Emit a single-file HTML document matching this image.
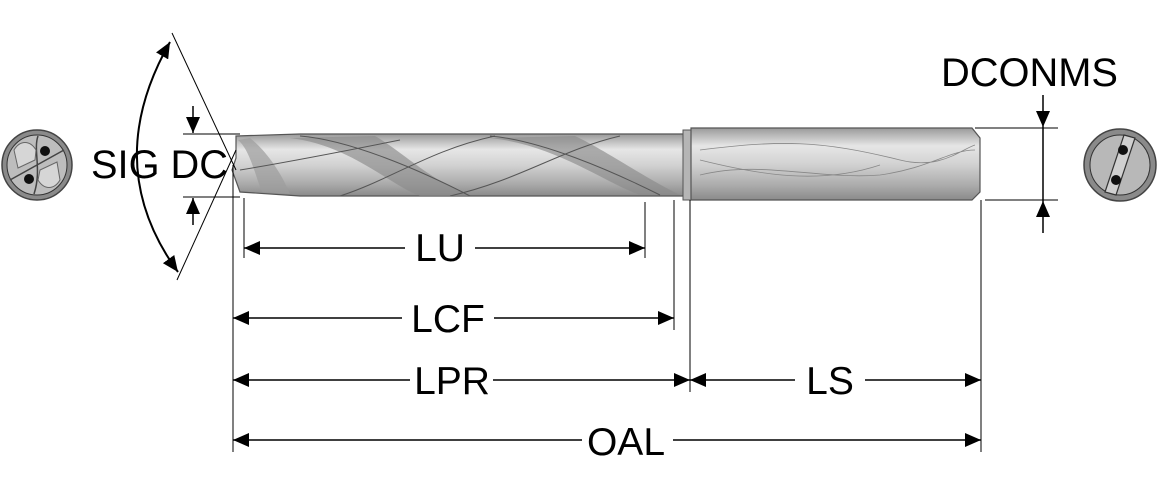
<!DOCTYPE html>
<html><head><meta charset="utf-8"><style>
html,body{margin:0;padding:0;background:#fff;}
svg{display:block;}
text{font-family:"Liberation Sans",sans-serif;fill:#000;}
</style></head><body>
<svg width="1159" height="500" viewBox="0 0 1159 500" xmlns="http://www.w3.org/2000/svg">
<defs>
<linearGradient id="g1" x1="0" y1="0" x2="0" y2="1">
<stop offset="0" stop-color="#9a9a9a"/><stop offset="0.25" stop-color="#e6e6e6"/><stop offset="0.5" stop-color="#d2d2d2"/><stop offset="0.8" stop-color="#ababab"/><stop offset="1" stop-color="#8a8a8a"/>
</linearGradient>
<marker id="a" markerWidth="16" markerHeight="14" refX="16" refY="7" orient="auto-start-reverse" markerUnits="userSpaceOnUse">
<path d="M0,0 L16,7 L0,14 Z" fill="#000"/></marker>
</defs>

<path d="M236,136 L300,134 L685,134 L685,196 L300,196 L240,192 L232,170 L236,158 Z" fill="url(#g1)" stroke="#555" stroke-width="1.2"/>
<path d="M290,138 C350,145 390,185 420,196 L470,196 C430,180 400,150 375,136 Z" fill="#8a8a8a" opacity="0.65"/>
<path d="M490,138 C555,145 600,180 640,195 L680,195 C645,178 605,150 575,136 Z" fill="#8a8a8a" opacity="0.65"/>
<path d="M238,140 C250,150 255,175 262,192 L290,194 C280,170 265,150 250,138 Z" fill="#9c9c9c" opacity="0.7"/>
<path d="M300,136 C350,140 420,170 470,196 M490,136 C540,140 610,170 660,195 M340,196 C390,180 430,150 495,136 M240,170 C300,160 350,150 400,140 M450,196 C520,180 560,150 620,136" fill="none" stroke="#555" stroke-width="1"/>
<rect x="683" y="130" width="8" height="70" fill="#b5b5b5" stroke="#555" stroke-width="1"/>
<path d="M691,128 L972,128 L980,138 L980,192 L972,200 L691,200 Z" fill="url(#g1)" stroke="#555" stroke-width="1.2"/>
<path d="M700,150 C780,140 820,140 900,160 C940,170 960,150 975,145 M700,175 C760,160 820,180 880,175 C930,168 950,150 975,150 M700,160 C760,175 820,185 880,165" fill="none" stroke="#888" stroke-width="0.8"/>

<g stroke="#000" stroke-width="1">
<line x1="183" y1="134" x2="240" y2="134"/>
<line x1="183" y1="197" x2="240" y2="197"/>
<line x1="233" y1="165" x2="233" y2="452"/>
<line x1="244" y1="198" x2="244" y2="258"/>
<line x1="645" y1="202" x2="645" y2="258"/>
<line x1="674" y1="200" x2="674" y2="330"/>
<line x1="690" y1="200" x2="690" y2="392"/>
<line x1="981" y1="200" x2="981" y2="452"/>
<line x1="975" y1="128" x2="1058" y2="128"/>
<line x1="985" y1="200" x2="1058" y2="200"/>
<line x1="172" y1="33" x2="236" y2="170"/>
<line x1="236" y1="150" x2="177" y2="280"/>
</g>

<path d="M170,42 Q100,165 178,272" fill="none" stroke="#000" stroke-width="2" marker-start="url(#a)" marker-end="url(#a)"/>

<g stroke="#000" stroke-width="1.5">
<line x1="193" y1="106" x2="193" y2="133" marker-end="url(#a)"/>
<line x1="193" y1="225" x2="193" y2="198" marker-end="url(#a)"/>
<line x1="1043" y1="95" x2="1043" y2="127" marker-end="url(#a)"/>
<line x1="1043" y1="127" x2="1043" y2="201"/>
<line x1="1043" y1="233" x2="1043" y2="201" marker-end="url(#a)"/>
</g>

<g stroke="#000" stroke-width="1.5" fill="none">
<line x1="244" y1="248" x2="405" y2="248" marker-start="url(#a)"/>
<line x1="475" y1="248" x2="645" y2="248" marker-end="url(#a)"/>
<line x1="233" y1="318" x2="402" y2="318" marker-start="url(#a)"/>
<line x1="494" y1="318" x2="674" y2="318" marker-end="url(#a)"/>
<line x1="233" y1="380" x2="410" y2="380" marker-start="url(#a)"/>
<line x1="493" y1="380" x2="690" y2="380" marker-end="url(#a)"/>
<line x1="690" y1="380" x2="795" y2="380" marker-start="url(#a)"/>
<line x1="865" y1="380" x2="981" y2="380" marker-end="url(#a)"/>
<line x1="233" y1="440" x2="582" y2="440" marker-start="url(#a)"/>
<line x1="673" y1="440" x2="981" y2="440" marker-end="url(#a)"/>
</g>

<g font-size="39">
<text x="440" y="261" text-anchor="middle">LU</text>
<text x="448" y="332" text-anchor="middle">LCF</text>
<text x="452" y="394" text-anchor="middle">LPR</text>
<text x="830" y="394" text-anchor="middle">LS</text>
<text x="626" y="455" text-anchor="middle">OAL</text>
<text x="91" y="178" font-size="40" textLength="137" lengthAdjust="spacingAndGlyphs">SIG DC</text>
<text x="941" y="86" font-size="40" textLength="177" lengthAdjust="spacingAndGlyphs">DCONMS</text>
</g>

<g>
<circle cx="37" cy="165" r="35" fill="#8a8a8a" stroke="#444" stroke-width="1.5"/>
<circle cx="37" cy="165" r="30" fill="#bdbdbd" stroke="#333" stroke-width="1"/>
<path d="M10,180 L64,150 M38,136 C33,150 42,170 34,194" stroke="#444" stroke-width="1.5" fill="none"/>
<path d="M14,150 C20,140 30,140 36,150 L35,160 L18,168 Z" fill="#d6d6d6" stroke="#666"/>
<path d="M60,180 C54,190 44,190 38,180 L40,170 L57,162 Z" fill="#d6d6d6" stroke="#666"/>
<circle cx="45" cy="151" r="5" fill="#111"/>
<circle cx="29" cy="179" r="5" fill="#111"/>
</g>
<g>
<circle cx="1120" cy="165" r="36" fill="#8a8a8a" stroke="#444" stroke-width="1.5"/>
<circle cx="1120" cy="165" r="30" fill="#b8b8b8" stroke="#333" stroke-width="1"/>
<path d="M1124,135 L1135,138 L1116,195 L1105,192 Z" fill="#d0d0d0" stroke="#333" stroke-width="1.2"/>
<circle cx="1123" cy="150" r="5" fill="#111"/>
<circle cx="1116" cy="180" r="5" fill="#111"/>
</g>
</svg>
</body></html>
